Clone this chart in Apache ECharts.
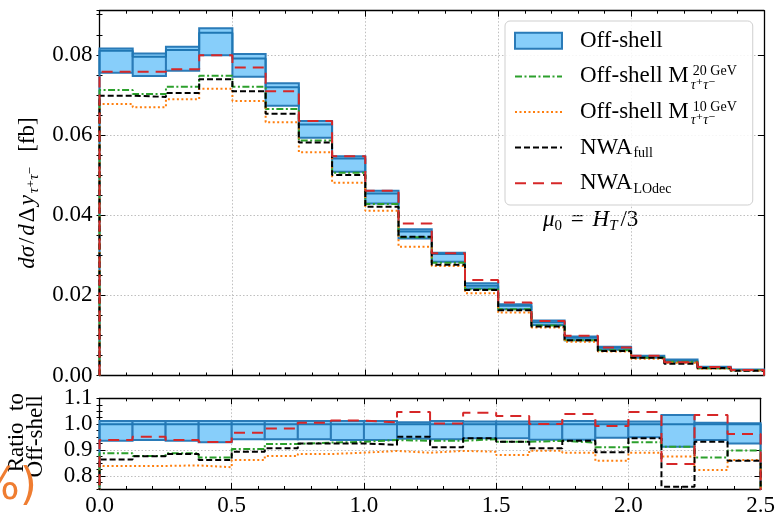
<!DOCTYPE html>
<html>
<head>
<meta charset="utf-8">
<script src="https://cdn.jsdelivr.net/npm/echarts@6/dist/echarts.min.js"></script>
<style>
  html, body { margin: 0; padding: 0; background: #ffffff; }
  #chart { width: 778px; height: 522px; }
</style>
</head>
<body>
<div id="chart"></div>
<script>
// Bin edges in Δy(τ+τ−)
const binEdges = [0.000, 0.125, 0.250, 0.375, 0.500, 0.625, 0.750, 0.875, 1.000, 1.125,
                  1.250, 1.375, 1.500, 1.625, 1.750, 1.875, 2.000, 2.125, 2.250, 2.375, 2.500];

// dσ/dΔy [fb], one value per bin
const offShellCentral = [0.0810, 0.0795, 0.0812, 0.0855, 0.0791, 0.0719, 0.0626, 0.0541, 0.0454, 0.0359,
                         0.0303, 0.0224, 0.0174, 0.0133, 0.0094, 0.0069, 0.0047, 0.0037, 0.0020, 0.0014];
const offShellUpper   = [0.0816, 0.0803, 0.0820, 0.0866, 0.0802, 0.0729, 0.0635, 0.0547, 0.0461, 0.0365,
                         0.0306, 0.0230, 0.0178, 0.0137, 0.0097, 0.0072, 0.0049, 0.0040, 0.0022, 0.0015];
const offShellLower   = [0.0755, 0.0747, 0.0760, 0.0799, 0.0745, 0.0673, 0.0593, 0.0508, 0.0429, 0.0342,
                         0.0284, 0.0217, 0.0165, 0.0126, 0.0088, 0.0064, 0.0044, 0.0033, 0.0018, 0.0013];
const offShellM20     = [0.0712, 0.0702, 0.0720, 0.0748, 0.0720, 0.0665, 0.0586, 0.0506, 0.0428, 0.0345,
                         0.0281, 0.0215, 0.0165, 0.0125, 0.0088, 0.0063, 0.0044, 0.0034, 0.0018, 0.0013];
const offShellM10     = [0.0677, 0.0669, 0.0689, 0.0715, 0.0685, 0.0632, 0.0557, 0.0481, 0.0411, 0.0321,
                         0.0273, 0.0205, 0.0157, 0.0120, 0.0084, 0.0060, 0.0042, 0.0032, 0.0017, 0.0012];
const nwaFull         = [0.0698, 0.0695, 0.0705, 0.0739, 0.0709, 0.0653, 0.0581, 0.0500, 0.0421, 0.0346,
                         0.0276, 0.0213, 0.0163, 0.0122, 0.0088, 0.0061, 0.0044, 0.0029, 0.0019, 0.0012];
const nwaLOdec        = [0.0758, 0.0758, 0.0764, 0.0799, 0.0768, 0.0709, 0.0635, 0.0547, 0.0461, 0.0379,
                         0.0305, 0.0238, 0.0182, 0.0136, 0.0099, 0.0070, 0.0049, 0.0033, 0.0021, 0.0014];

// Ratios to the off-shell central prediction
const ratioCentral  = [1.000, 1.000, 1.000, 1.000, 1.000, 1.000, 1.000, 1.000, 1.000, 1.000,
                       1.000, 1.000, 1.000, 1.000, 1.000, 1.000, 1.000, 1.000, 1.000, 1.000];
const ratioUpper    = [1.012, 1.012, 1.012, 1.012, 1.012, 1.012, 1.012, 1.012, 1.012, 1.008,
                       1.012, 1.010, 1.010, 1.010, 1.012, 1.010, 1.010, 1.036, 1.006, 1.004];
const ratioLower    = [0.936, 0.939, 0.936, 0.930, 0.942, 0.942, 0.942, 0.939, 0.939, 0.944,
                       0.942, 0.946, 0.946, 0.940, 0.940, 0.948, 0.950, 0.913, 0.939, 0.926];
const ratioM20      = [0.888, 0.877, 0.888, 0.872, 0.904, 0.924, 0.929, 0.932, 0.939, 0.936,
                       0.936, 0.942, 0.932, 0.936, 0.929, 0.911, 0.930, 0.913, 0.872, 0.899];
const ratioM10      = [0.839, 0.839, 0.841, 0.834, 0.862, 0.877, 0.885, 0.890, 0.897, 0.890,
                       0.897, 0.894, 0.881, 0.898, 0.890, 0.859, 0.890, 0.875, 0.823, 0.862];
const ratioNwaFull  = [0.864, 0.876, 0.885, 0.862, 0.894, 0.907, 0.926, 0.926, 0.920, 0.952,
                       0.911, 0.946, 0.932, 0.907, 0.936, 0.892, 0.946, 0.759, 0.932, 0.859];
const ratioNwaLOdec = [0.939, 0.952, 0.939, 0.931, 0.967, 0.983, 1.006, 1.014, 1.007, 1.047,
                       1.003, 1.044, 1.032, 1.001, 1.039, 0.993, 1.047, 0.846, 1.036, 0.962];

// Tick labels
const xTickLabels      = ['0.0', '0.5', '1.0', '1.5', '2.0', '2.5'];
const yTickLabelsTop   = ['0.00', '0.02', '0.04', '0.06', '0.08'];
const yTickLabelsRatio = ['0.8', '0.9', '1.0', '1.1'];

const SERIF = '"Liberation Serif", "DejaVu Serif", serif';
const BAND_FILL = '#87cefa';
const BAND_EDGE = '#2a7bb8';

const styles = {
  central: { color: '#1f77b4', width: 2, type: 'solid' },
  m20:     { color: '#2ca02c', width: 2, type: [7, 2.5, 2, 2.5] },
  m10:     { color: '#ff7f0e', width: 2, type: [2, 2.5] },
  full:    { color: '#000000', width: 2, type: [6, 3] },
  lodec:   { color: '#d62728', width: 2, type: [11, 7] }
};

// Histogram outline: starts and ends on the baseline
function stepPoints(values, base) {
  const n = values.length;
  const pts = [[binEdges[0], base]];
  for (let i = 0; i < n; i++) pts.push([binEdges[i], values[i]]);
  pts.push([binEdges[n], values[n - 1]]);
  pts.push([binEdges[n], base]);
  return pts;
}

function stepLine(name, values, base, style, xi, yi) {
  return {
    type: 'line', name: name, xAxisIndex: xi, yAxisIndex: yi,
    data: stepPoints(values, base), step: 'end',
    symbol: 'none', showSymbol: false, clip: true,
    lineStyle: style, itemStyle: { color: style.color },
    animation: false, silent: true
  };
}

// Scale-variation band: one box per bin
function bandSeries(name, lower, upper, xi, yi) {
  return {
    type: 'custom', name: name, xAxisIndex: xi, yAxisIndex: yi,
    data: lower.map((v, i) => [binEdges[i], binEdges[i + 1], v, upper[i]]),
    encode: { x: [0, 1], y: [2, 3] },
    renderItem: function (params, api) {
      const p0 = api.coord([api.value(0), api.value(3)]);
      const p1 = api.coord([api.value(1), api.value(2)]);
      return {
        type: 'rect',
        shape: { x: p0[0], y: p0[1], width: p1[0] - p0[0], height: p1[1] - p0[1] },
        style: { fill: BAND_FILL, stroke: BAND_EDGE, lineWidth: 2 }
      };
    },
    itemStyle: { color: BAND_FILL },
    animation: false, silent: true
  };
}

const axisLine = { show: true, onZero: false, lineStyle: { color: '#000', width: 1.3 } };
const gridLine = { show: true, lineStyle: { color: '#b8b8b8', width: 0.9, type: [1.5, 2] } };
const tickMajor = { show: true, inside: true, length: 6, lineStyle: { color: '#000', width: 1 } };
const tickMinor = { show: true, inside: true, length: 3, lineStyle: { color: '#000', width: 1 } };
const labelFont = { fontFamily: SERIF, fontSize: 23, color: '#000' };

function xAxisDef(grid, pos, withLabels, withGrid) {
  return {
    type: 'value', gridIndex: grid, position: pos, min: 0, max: 2.5, interval: 0.5,
    axisLine: axisLine, axisTick: tickMajor,
    minorTick: { show: true, splitNumber: 5, length: 3, lineStyle: { color: '#000', width: 1 } },
    axisLabel: withLabels ? Object.assign({ show: true, margin: 5,
      customValues: xTickLabels.map(Number),
      formatter: v => xTickLabels.find(s => Math.abs(Number(s) - v) < 1e-9) || '' }, labelFont)
      : { show: false },
    splitLine: withGrid ? gridLine : { show: false }
  };
}

function yMinorDef(grid, pos, min, max, interval) {
  return {
    type: 'value', gridIndex: grid, position: pos, min: min, max: max, interval: interval,
    axisLine: { show: false }, axisTick: tickMinor, axisLabel: { show: false }, splitLine: { show: false }
  };
}

const topTicks = yTickLabelsTop.map(Number);
const ratioTicks = yTickLabelsRatio.map(Number);

// Line legend entries show only the line sample
const lineOnly = { color: 'rgba(0,0,0,0)', borderWidth: 0, opacity: 0 };

const option = {
  backgroundColor: '#ffffff',
  animation: false,
  grid: [
    { left: 99.5, right: 14, top: 10.7, bottom: 146.5 },
    { left: 99.5, right: 14, top: 398.3, bottom: 33 }
  ],
  xAxis: [
    xAxisDef(0, 'bottom', false, true),
    xAxisDef(0, 'top', false, false),
    xAxisDef(1, 'bottom', true, true),
    xAxisDef(1, 'top', false, false)
  ],
  yAxis: [
    {
      type: 'value', gridIndex: 0, position: 'left', min: 0, max: 0.091, interval: 0.02,
      axisLine: axisLine,
      axisTick: Object.assign({ customValues: topTicks }, tickMajor),
      axisLabel: Object.assign({ margin: 7, customValues: topTicks,
        formatter: v => yTickLabelsTop.find(s => Math.abs(Number(s) - v) < 1e-9) || '' }, labelFont),
      splitLine: gridLine,
      name: '{i|dσ}{r|/}{i|d}{r|Δ}{i|y}{s|τ⁺τ⁻}{r| [fb]}',
      nameLocation: 'middle', nameRotate: 90, nameGap: 53,
      nameTextStyle: {
        fontFamily: SERIF, fontSize: 23, color: '#000',
        rich: {
          i: { fontFamily: SERIF, fontSize: 23, fontStyle: 'italic', lineHeight: 30, padding: [0, 1, 0, 1] },
          r: { fontFamily: SERIF, fontSize: 23, lineHeight: 30, padding: [0, 1, 0, 1] },
          s: { fontFamily: SERIF, fontSize: 15, fontStyle: 'italic', lineHeight: 15, padding: [12, 8, 0, 1] }
        }
      }
    },
    yMinorDef(0, 'left', 0, 0.091, 0.005),
    {
      type: 'value', gridIndex: 0, position: 'right', min: 0, max: 0.091, interval: 0.02,
      axisLine: axisLine, axisTick: Object.assign({ customValues: topTicks }, tickMajor),
      axisLabel: { show: false }, splitLine: { show: false }
    },
    yMinorDef(0, 'right', 0, 0.091, 0.005),
    {
      type: 'value', gridIndex: 1, position: 'left', min: 0.75, max: 1.1, interval: 0.05,
      axisLine: axisLine,
      axisTick: Object.assign({ customValues: ratioTicks }, tickMajor),
      axisLabel: Object.assign({ margin: 7, customValues: ratioTicks,
        formatter: v => yTickLabelsRatio.find(s => Math.abs(Number(s) - v) < 1e-9) || '' }, labelFont),
      splitLine: gridLine
    },
    yMinorDef(1, 'left', 0.75, 1.1, 0.025),
    {
      type: 'value', gridIndex: 1, position: 'right', min: 0.75, max: 1.1, interval: 0.05,
      axisLine: axisLine, axisTick: Object.assign({ customValues: ratioTicks }, tickMajor),
      axisLabel: { show: false }, splitLine: { show: false }
    },
    yMinorDef(1, 'right', 0.75, 1.1, 0.025)
  ],
  legend: {
    orient: 'vertical', left: 505, top: 21,
    padding: [2, 16, 4, 9], itemGap: 0, itemWidth: 47, itemHeight: 16,
    backgroundColor: 'rgba(255,255,255,0.85)', borderColor: '#cfcfcf', borderWidth: 1, borderRadius: 5,
    selectedMode: false,
    data: [
      { name: 'Off-shell', icon: 'rect',
        itemStyle: { color: BAND_FILL, borderColor: BAND_EDGE, borderWidth: 2 } },
      { name: 'Off-shell M20', itemStyle: lineOnly },
      { name: 'Off-shell M10', itemStyle: lineOnly },
      { name: 'NWA full', itemStyle: lineOnly },
      { name: 'NWA LOdec', itemStyle: lineOnly }
    ],
    formatter: function (name) {
      switch (name) {
        case 'Off-shell': return '{t|Off-shell}';
        case 'Off-shell M20': return '{t|Off-shell M}{sb|τ⁺τ⁻}{sp|20 GeV}';
        case 'Off-shell M10': return '{t|Off-shell M}{sb|τ⁺τ⁻}{sp|10 GeV}';
        case 'NWA full': return '{t|NWA}{sub|full}';
        case 'NWA LOdec': return '{t|NWA}{sub|LOdec}';
      }
      return name;
    },
    textStyle: {
      fontFamily: SERIF, fontSize: 23, color: '#000', lineHeight: 35.6,
      rich: {
        t:   { fontFamily: SERIF, fontSize: 23, lineHeight: 35.6, verticalAlign: 'middle', padding: [0, 0, 0, 13] },
        sp:  { fontFamily: SERIF, fontSize: 14, lineHeight: 14, verticalAlign: 'middle', padding: [0, 0, 10, 2] },
        sb:  { fontFamily: SERIF, fontSize: 14, fontStyle: 'italic', lineHeight: 14, width: 0,
               verticalAlign: 'middle', padding: [17, 0, 0, 2] },
        sub: { fontFamily: SERIF, fontSize: 14, lineHeight: 14, verticalAlign: 'middle', padding: [12, 0, 0, 1] }
      }
    }
  },
  graphic: [
    {
      type: 'text', x: 543, y: 220, silent: true,
      style: {
        text: '{i|μ}{s|0}{r| = }{i|H}{si|T}{r|/3}',
        fill: '#000', align: 'left', verticalAlign: 'middle',
        textAlign: 'left', textVerticalAlign: 'middle',
        rich: {
          i:  { fontFamily: SERIF, fontSize: 23, fontStyle: 'italic', lineHeight: 30, verticalAlign: 'middle' },
          r:  { fontFamily: SERIF, fontSize: 23, lineHeight: 30, verticalAlign: 'middle', padding: [0, 3, 0, 3] },
          s:  { fontFamily: SERIF, fontSize: 15, lineHeight: 15, verticalAlign: 'middle', padding: [12, 0, 0, 0] },
          si: { fontFamily: SERIF, fontSize: 15, fontStyle: 'italic', lineHeight: 15, verticalAlign: 'middle', padding: [12, 0, 0, 0] }
        }
      }
    },
    {
      type: 'text', x: 17, y: 393, rotation: Math.PI / 2, silent: true,
      style: { text: 'Ratio  to', fill: '#000', font: '23px ' + SERIF,
               align: 'right', verticalAlign: 'middle', textAlign: 'right', textVerticalAlign: 'middle' }
    },
    {
      type: 'text', x: 36, y: 395, rotation: Math.PI / 2, silent: true,
      style: { text: 'Off-shell', fill: '#000', font: '23px ' + SERIF,
               align: 'right', verticalAlign: 'middle', textAlign: 'right', textVerticalAlign: 'middle' }
    },
    {
      type: 'text', x: 37, y: 488, silent: true,
      style: { text: '%)', fill: '#ef7d31', font: '44px "DejaVu Sans", sans-serif',
               align: 'right', verticalAlign: 'middle', textAlign: 'right', textVerticalAlign: 'middle' }
    }
  ],
  series: [
    bandSeries('Off-shell', offShellLower, offShellUpper, 0, 0),
    stepLine('Off-shell central', offShellCentral, 0, styles.central, 0, 0),
    stepLine('Off-shell M20', offShellM20, 0, styles.m20, 0, 0),
    stepLine('Off-shell M10', offShellM10, 0, styles.m10, 0, 0),
    stepLine('NWA full', nwaFull, 0, styles.full, 0, 0),
    stepLine('NWA LOdec', nwaLOdec, 0, styles.lodec, 0, 0),

    bandSeries('Off-shell', ratioLower, ratioUpper, 2, 4),
    stepLine('Off-shell ratio central', ratioCentral, 0, styles.central, 2, 4),
    stepLine('Off-shell M20', ratioM20, 0, styles.m20, 2, 4),
    stepLine('Off-shell M10', ratioM10, 0, styles.m10, 2, 4),
    stepLine('NWA full', ratioNwaFull, 0, styles.full, 2, 4),
    stepLine('NWA LOdec', ratioNwaLOdec, 0, styles.lodec, 2, 4)
  ]
};

const chart = echarts.init(document.getElementById('chart'), null, { renderer: 'canvas' });
chart.setOption(option);
</script>
</body>
</html>
